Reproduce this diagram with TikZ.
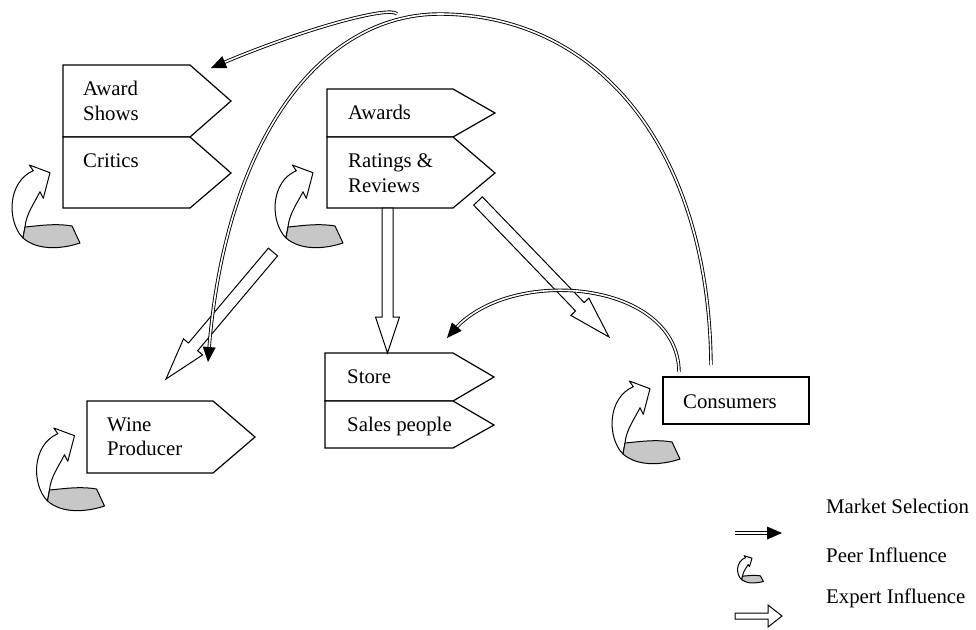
\documentclass[tikz,border=0pt]{standalone}
\usepackage{fontspec}
\setmainfont{Liberation Serif}
\usetikzlibrary{calc}
\tikzset{
  box/.style={draw=black, line width=1.2pt, line join=miter, fill=white},
  lbl/.style={anchor=base west, inner sep=0pt, font=\fontsize{20.8}{25}\selectfont},
  expert/.style={draw=black, line width=1pt, fill=white, line join=miter},
  market/.style={draw=black, double=white, double distance=1.6pt, line width=0.9pt},
  peer/.pic={
    \filldraw[fill=white, line width=1pt, line join=round]
      (-16.7,-1.3) -- (-20.7,-7) -- (0,0.7) -- (-6.7,26.3) -- (-10,19.7)
      .. controls (-15,30) and (-24,42) .. (-25,55) -- (-27,66)
      .. controls (-43,50) and (-43,10) .. (-16.7,-1.3) -- cycle;
    \filldraw[fill=black!22, line width=1pt, line join=round]
      (-27,66) .. controls (-12,79) and (12,77) .. (30,71) -- (22,54)
      .. controls (5,51) and (-13,54) .. (-25,55) -- cycle;
  }
}
% hollow block arrow: start, tip, head length, shaft half width, head half width
\newcommand\expertarr[5]{%
  \coordinate (eh) at ($(#2)!#3!(#1)$);
  \draw[expert] ($(#1)!#4!-90:(#2)$) -- ($(eh)!#4!90:(#1)$) -- ($(eh)!#5!90:(#1)$) -- (#2)
    -- ($(eh)!#5!-90:(#1)$) -- ($(eh)!#4!-90:(#1)$) -- ($(#1)!#4!90:(#2)$) -- cycle;}
% filled triangular head: tip, point giving the direction it comes from
\newcommand\mhead[2]{%
  \coordinate (mhb) at ($(#1)!15pt!(#2)$);
  \fill[black] ($(mhb)!6.5pt!90:(#1)$) -- (#1) -- ($(mhb)!6.5pt!-90:(#1)$) -- cycle;}
\begin{document}
\begin{tikzpicture}[x=1pt,y=-1pt]
\useasboundingbox (0,0) rectangle (976,629);

% ---- boxes
\draw[box] (63,65) -- (190,65) -- (231,101) -- (190,137) -- (63,137) -- cycle;
\draw[box] (63,137) -- (190,137) -- (231,173) -- (190,208) -- (63,208) -- cycle;
\draw[box] (327,89) -- (453,89) -- (495,113) -- (453,137) -- (327,137) -- cycle;
\draw[box] (327,137) -- (453,137) -- (495,173) -- (453,208) -- (327,208) -- cycle;
\draw[box] (87,401) -- (213,401) -- (255,437) -- (213,473) -- (87,473) -- cycle;
\draw[box] (325,353) -- (453,353) -- (494,377) -- (453,401) -- (325,401) -- cycle;
\draw[box] (325,401) -- (453,401) -- (494,425) -- (453,448) -- (325,448) -- cycle;
\draw[box] (663,377) rectangle (809,424);

% ---- texts
\node[lbl] (aw1) at (83,95) {Award};
\node[lbl] (aw2) at (83,120) {Shows};
\node[lbl] (crit) at (83,167) {Critics};
\node[lbl] (awards) at (348,119) {Awards};
\node[lbl] (rr1) at (348,167) {Ratings \&};
\node[lbl] (rr2) at (348,192) {Reviews};
\node[lbl] (wp1) at (107,431) {Wine};
\node[lbl] (wp2) at (107,455) {Producer};
\node[lbl] (store) at (347,383) {Store};
\node[lbl] (sales) at (347,431) {Sales people};
\node[lbl] (cons) at (683,408) {Consumers};
\node[lbl] (lg1) at (826,513) {Market Selection};
\node[lbl] (lg2) at (826,562) {Peer Influence};
\node[lbl] (lg3) at (826,603) {Expert Influence};

% ---- anchor coordinates
\coordinate (rrbot) at (387.5,208);
\coordinate (storetop) at (387.5,353);
\coordinate (rrtip) at (478,201);
\coordinate (constip) at (609,337);
\coordinate (rrleft) at (273,252);
\coordinate (wptip) at (166,379);
\coordinate (topfree) at (397,14);
\coordinate (awin) at (211,68);
\coordinate (awc) at (300,30);
\coordinate (consA) at (711,365);
\coordinate (apex) at (440,14);
\coordinate (wpin) at (208,362);
\coordinate (wpc) at (225,140);
\coordinate (consB) at (679,372);
\coordinate (storein) at (447,338);
\coordinate (storec) at (510,265);

% ---- expert influence
\expertarr{rrbot}{storetop}{36pt}{5.5pt}{12pt}
\expertarr{rrtip}{constip}{42pt}{6pt}{12.5pt}
\expertarr{rrleft}{wptip}{42pt}{6pt}{12.5pt}

% ---- market selection
\draw[market, shorten >=10pt] (topfree) .. controls (390,5) and (awc) .. (awin);
\mhead{awin}{awc}
\draw[market, shorten >=10pt] (consA) .. controls (709,150) and (600,15) .. (apex)
  .. controls (320,14) and (wpc) .. (wpin);
\mhead{wpin}{wpc}
\draw[market, shorten >=10pt] (consB) .. controls (678,280) and (storec) .. (storein);
\mhead{storein}{storec}

% ---- peer influence
\pic at (50,172) {peer};
\pic at (313,172) {peer};
\pic at (74.5,435) {peer};
\pic at (650,388) {peer};

% ---- legend
\coordinate (l1a) at (735,533);
\coordinate (l1b) at (782,533);
\draw[market, shorten >=10pt] (l1a) -- (l1b);
\mhead{l1b}{l1a}
\pic[xscale=0.38, yscale=0.33] at (752,558) {peer};
\coordinate (l3a) at (735,616);
\coordinate (l3b) at (782,616);
\expertarr{l3a}{l3b}{14pt}{3pt}{11pt}
\end{tikzpicture}
\end{document}
